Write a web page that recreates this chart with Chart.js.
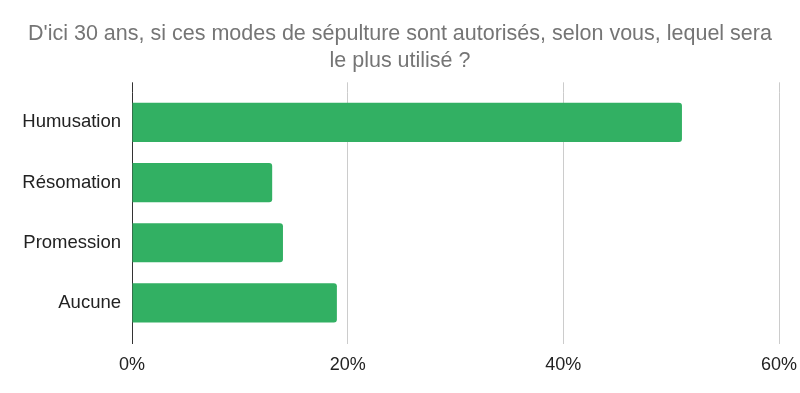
<!DOCTYPE html>
<html>
<head>
<meta charset="utf-8">
<script src="https://cdn.jsdelivr.net/npm/chart.js@4.4.1/dist/chart.umd.min.js"></script>
<style>
    html, body { margin: 0; padding: 0; background: #fff; }
    #wrap { width: 800px; height: 393px; }
</style>
</head>
<body>
<div id="wrap"><canvas id="chart"></canvas></div>
<script>
// ===== données =====
const titleLines = ["D'ici 30 ans, si ces modes de sépulture sont autorisés, selon vous, lequel sera", "le plus utilisé ?"];
const categories = ['Humusation', 'Résomation', 'Promession', 'Aucune'];
const values = [51, 13, 14, 19];
const xTicks = [0, 20, 40, 60];

const FONT = "'Liberation Sans', Arial, sans-serif";

// prolonge les lignes verticales au-dessus de la zone de tracé
const gridExtend = {
    id: 'gridExtend',
    afterDraw(chart) {
        const xs = chart.scales.x;
        const top = chart.chartArea.top;
        const ctx = chart.ctx;
        ctx.save();
        ctx.lineWidth = 1;
        xs.ticks.forEach((t, i) => {
            const px = Math.round(xs.getPixelForTick(i) - 0.5) + 0.5;
            ctx.strokeStyle = t.value === 0 ? '#333333' : '#cccccc';
            ctx.beginPath();
            ctx.moveTo(px, top - 10);
            ctx.lineTo(px, top);
            ctx.stroke();
        });
        ctx.restore();
    }
};

new Chart(document.getElementById('chart').getContext('2d'), {
    type: 'bar',
    data: {
        labels: categories,
        datasets: [{
            data: values,
            backgroundColor: '#32b063',
            borderWidth: 0,
            borderRadius: 3,
            borderSkipped: 'start',
            categoryPercentage: 1,
            barPercentage: 0.65
        }]
    },
    options: {
        indexAxis: 'y',
        responsive: true,
        maintainAspectRatio: false,
        animation: false,
        layout: { padding: 0 },
        scales: {
            x: {
                min: 0,
                max: 60,
                afterBuildTicks(scale) { scale.ticks = xTicks.map(v => ({ value: v })); },
                afterFit(scale) {
                    scale.height = 60;
                    scale.paddingLeft = 0;
                    scale.paddingRight = 21;
                },
                border: { display: false },
                grid: {
                    color: ctx => ctx.tick && ctx.tick.value === 0 ? '#333333' : '#cccccc',
                    lineWidth: 1,
                    tickLength: 11
                },
                ticks: {
                    padding: 10,
                    color: '#222222',
                    font: { family: FONT, size: 18 },
                    callback: v => v + '%'
                }
            },
            y: {
                afterFit(scale) { scale.width = 132; },
                border: { display: false },
                grid: { display: false },
                ticks: {
                    padding: 3,
                    color: '#222222',
                    font: { family: FONT, size: 18.5 }
                }
            }
        },
        plugins: {
            legend: { display: false },
            tooltip: { enabled: false },
            title: {
                display: true,
                text: titleLines,
                color: '#757575',
                font: { family: FONT, size: 21.5, weight: 'normal', lineHeight: 1.24 },
                padding: { top: 21, bottom: 18 }
            }
        }
    },
    plugins: [gridExtend]
});
</script>
</body>
</html>
